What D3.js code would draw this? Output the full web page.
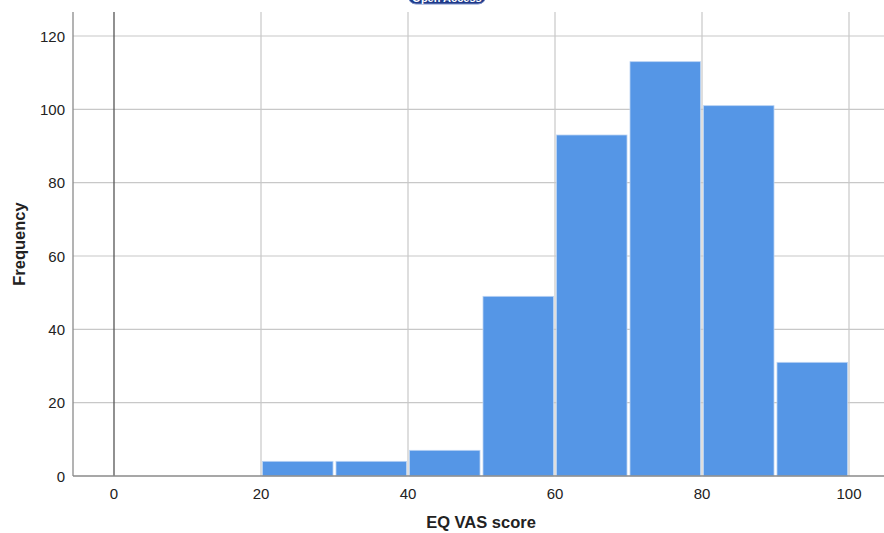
<!DOCTYPE html>
<html><head><meta charset="utf-8">
<script src="https://cdn.jsdelivr.net/npm/d3@7"></script>
<style>body{margin:0;background:#fff}svg{display:block}text{font-family:"Liberation Sans",Arial,sans-serif}</style>
</head><body><svg id="c" width="884" height="533"></svg>
<script>
const binStarts = [20, 30, 40, 50, 60, 70, 80, 90];
const binWidth = 10;
const frequencies = [4, 4, 7, 49, 93, 113, 101, 31];
const xTicks = [0, 20, 40, 60, 80, 100];
const yTicks = [0, 20, 40, 60, 80, 100, 120];

(function () {
const svg = d3.select("#c");
const pLeft = 73, pRight = 884, pTop = 12, pBottom = 476;
const x = d3.scaleLinear().domain([0, 100]).range([114, 849]);
const y = d3.scaleLinear().domain([0, 120]).range([pBottom, 36]);

// badge at top (cut off, as in the source image)
svg.append("rect").attr("x", 408).attr("y", -14).attr("width", 78).attr("height", 18)
  .attr("rx", 8).attr("fill", "#1f3a8a").attr("stroke", "#7a8fc8").attr("stroke-width", 1);
svg.append("text").attr("x", 447).attr("y", 2).attr("text-anchor", "middle")
  .attr("font-size", 11).attr("font-weight", "bold").attr("fill", "#fff").text("Open Access");

// gridlines
svg.append("g").selectAll("line").data(yTicks.filter(d => d > 0)).join("line")
  .attr("x1", pLeft).attr("x2", pRight).attr("y1", d => y(d)).attr("y2", d => y(d))
  .attr("stroke", "#c8c8c8").attr("stroke-width", 1.2);
svg.append("g").selectAll("line").data(xTicks.filter(d => d > 0)).join("line")
  .attr("x1", d => x(d)).attr("x2", d => x(d)).attr("y1", pTop).attr("y2", pBottom)
  .attr("stroke", "#c8c8c8").attr("stroke-width", 1.2);

// bars
svg.append("g").selectAll("rect").data(frequencies).join("rect")
  .attr("x", (d, i) => x(binStarts[i]) + 1.5)
  .attr("width", (d, i) => x(binStarts[i] + binWidth) - x(binStarts[i]) - 3)
  .attr("y", d => y(d))
  .attr("height", d => y(0) - y(d))
  .attr("fill", "#5596e6")
  .attr("stroke", "#b9d3f3").attr("stroke-width", 0.8);

// zero reference line
svg.append("line").attr("x1", x(0)).attr("x2", x(0)).attr("y1", pTop).attr("y2", pBottom)
  .attr("stroke", "#555").attr("stroke-width", 1.3);

// axis frame
svg.append("line").attr("x1", pLeft).attr("x2", pLeft).attr("y1", pTop).attr("y2", pBottom)
  .attr("stroke", "#8a8a8a").attr("stroke-width", 1.3);
svg.append("line").attr("x1", pLeft).attr("x2", pRight).attr("y1", pBottom).attr("y2", pBottom)
  .attr("stroke", "#8a8a8a").attr("stroke-width", 1.3);

// tick labels
svg.append("g").selectAll("text").data(yTicks).join("text")
  .attr("x", 65).attr("y", d => y(d) + 5.5).attr("text-anchor", "end")
  .attr("font-size", 15).attr("fill", "#222").text(d => d);
svg.append("g").selectAll("text").data(xTicks).join("text")
  .attr("x", d => x(d)).attr("y", 499).attr("text-anchor", "middle")
  .attr("font-size", 15).attr("fill", "#222").text(d => d);

// axis titles
svg.append("text").attr("x", 481).attr("y", 528).attr("text-anchor", "middle")
  .attr("font-size", 16.5).attr("font-weight", "bold").attr("fill", "#222").text("EQ VAS score");
svg.append("text").attr("transform", "translate(25,244) rotate(-90)").attr("text-anchor", "middle")
  .attr("font-size", 16.5).attr("font-weight", "bold").attr("fill", "#222").text("Frequency");
})();
</script></body></html>
